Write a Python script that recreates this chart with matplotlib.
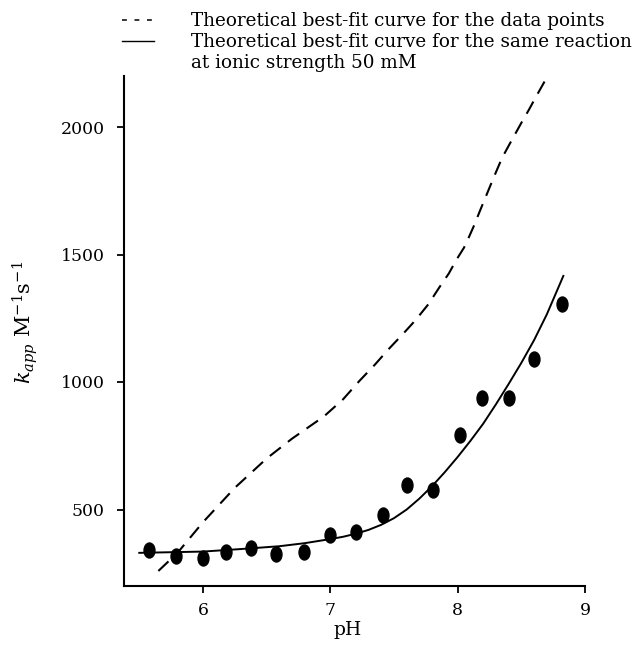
import matplotlib
matplotlib.use('Agg')
import matplotlib.pyplot as plt
from matplotlib.markers import MarkerStyle
from matplotlib.transforms import Affine2D
from matplotlib.lines import Line2D

# measured data points
ph_points = [5.58, 5.79, 6.0, 6.18, 6.38, 6.57, 6.79, 7.0, 7.2, 7.41, 7.6, 7.81, 8.02, 8.19, 8.4, 8.6, 8.82]
k_points = [340, 318, 311, 333, 349, 325, 332, 399, 412, 477, 595, 578, 792, 938, 938, 1089, 1306]

# theoretical best-fit curve for the data points (dashed)
ph_fit = [5.65, 5.8, 6.0, 6.25, 6.5, 6.7, 6.95, 7.1, 7.23, 7.35, 7.46, 7.57, 7.67, 7.77, 7.86, 7.93, 7.99,
          8.05, 8.09, 8.13, 8.17, 8.25, 8.3, 8.35, 8.41, 8.46, 8.51, 8.56, 8.62, 8.69]
k_fit = [259, 330, 450, 585, 700, 778, 865, 932, 1005, 1068, 1130, 1188, 1243, 1305, 1374, 1425, 1479,
         1527, 1570, 1615, 1665, 1762, 1822, 1880, 1935, 1980, 2025, 2068, 2123, 2185]

# theoretical best-fit curve at ionic strength 50 mM (solid)
ph_50 = [5.5, 6.0, 6.3, 6.6, 6.8, 7.0, 7.1, 7.2, 7.3, 7.4, 7.5, 7.6, 7.7, 7.8, 7.9, 8.0, 8.1, 8.2, 8.3,
         8.4, 8.5, 8.6, 8.7, 8.83]
k_50 = [330, 335, 345, 356, 368, 384, 393, 405, 420, 440, 466, 500, 543, 592, 647, 706, 769, 836, 912,
        992, 1075, 1164, 1265, 1416]

xticks = [6, 7, 8, 9]
yticks = [500, 1000, 1500, 2000]

legend_labels = ["Theoretical best-fit curve for the data points",
                 "Theoretical best-fit curve for the same reaction",
                 "at ionic strength 50 mM"]

plt.rcParams['font.family'] = ['DejaVu Serif']
plt.rcParams['mathtext.fontset'] = 'dejavuserif'
plt.rcParams['lines.scale_dashes'] = False

FS_LEG = 13.2
FS_TICK = 12.4
fig = plt.figure(figsize=(6.33, 6.48), dpi=100)
ax = fig.add_axes([124 / 633, 62 / 648, (585 - 124) / 633, (586 - 76) / 648])

ax.plot(ph_fit, k_fit, color='black', lw=1.5, dashes=(10, 6.5))
ax.plot(ph_50, k_50, color='black', lw=1.4)
ell = MarkerStyle('o', transform=Affine2D().scale(0.73, 1.0))
ax.plot(ph_points, k_points, linestyle='none', marker=ell, markersize=10.8,
        color='black')

ax.set_xlim(5.38, 9.0)
ax.set_ylim(200, 2200)
ax.set_xticks(xticks)
ax.set_yticks(yticks)
ax.spines['top'].set_visible(False)
ax.spines['right'].set_visible(False)
for s in ('left', 'bottom'):
    ax.spines[s].set_linewidth(1.5)
ax.tick_params(direction='out', length=4.8, width=1.3, labelsize=FS_TICK)
ax.tick_params(axis='y', pad=9.0)
ax.tick_params(axis='x', pad=7.0)

ax.set_xlabel('pH', fontsize=13.5)
ax.xaxis.set_label_coords((348 - 124) / (585 - 124), -(630 - 586) / (586 - 76))
ax.set_ylabel(r'$k_{app}$ M$^{-1}$s$^{-1}$', fontsize=15)
ax.yaxis.set_label_coords(-(124 - 25.6) / (585 - 124), (586 - 322) / (586 - 76))
ax.xaxis.label.set_va('center')
ax.yaxis.label.set_va('center')

h1 = Line2D([], [], color='black', lw=1.1, dashes=(3.5, 5.5))
h2 = Line2D([], [], color='black', lw=1.0)
h3 = Line2D([], [], linestyle='none')
fig.legend([h1, h2, h3], legend_labels, loc='upper left',
           bbox_to_anchor=(122 / 633, 1 - 12 / 648), frameon=False,
           fontsize=FS_LEG, handlelength=1.72, handletextpad=2.05,
           borderpad=0, borderaxespad=0, labelspacing=0.17)

fig.savefig('out.png', dpi=100)
